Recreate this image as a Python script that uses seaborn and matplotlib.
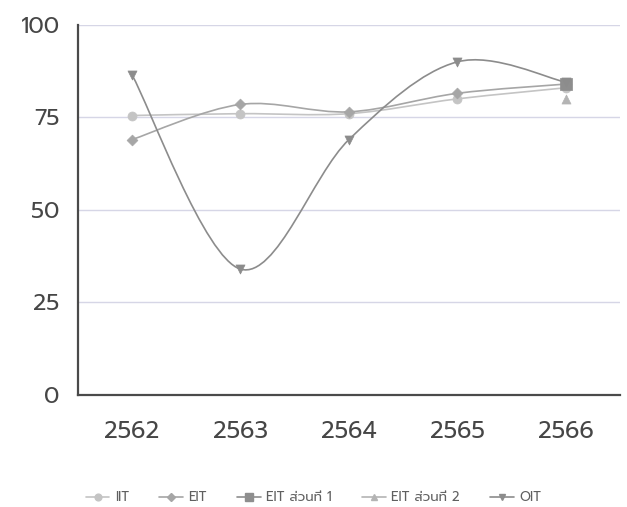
import numpy as np
import pandas as pd
import seaborn as sns
from matplotlib import pyplot as plt
from matplotlib.path import Path
from matplotlib.patches import PathPatch
from matplotlib.lines import Line2D

years = ['2562', '2563', '2564', '2565', '2566']
iit = [75.5, 76, 76, 80, 83]
eit = [69, 78.5, 76.5, 81.5, 84]
eit1 = [np.nan, np.nan, np.nan, np.nan, 84]
eit2 = [np.nan, np.nan, np.nan, np.nan, 80]
oit = [86.5, 34, 69, 90, 84.5]

names = ['IIT', 'EIT', 'EIT ส่วนที่ 1', 'EIT ส่วนที่ 2', 'OIT']
values = [iit, eit, eit1, eit2, oit]
colors = ['#c4c4c4', '#a6a6a6', '#8e8e8e', '#b4b4b4', '#8c8c8c']
markers = ['o', 'D', 's', '^', 'v']
msizes = [6.5, 5.5, 8, 6.5, 6.5]

rows = []
for n, v in zip(names, values):
    for i, y in enumerate(v):
        rows.append({'series': n, 'x': i, 'value': y})
df = pd.DataFrame(rows).dropna()

sns.set_theme(style='white')
plt.rcParams['font.family'] = ['Prompt', 'DejaVu Sans']

fig = plt.figure(figsize=(6.27, 5.07), dpi=100)
ax = fig.add_axes([0.124, 0.221, 0.865, 0.730])


def smooth_path(xs, ys):
    # catmull-rom style cubic segments through the points (like excel smoothed lines)
    pts = np.column_stack([xs, ys]).astype(float)
    verts = [pts[0]]
    codes = [Path.MOVETO]
    n = len(pts)
    for i in range(n - 1):
        p0 = pts[i - 1] if i > 0 else pts[i]
        p1 = pts[i]
        p2 = pts[i + 1]
        p3 = pts[i + 2] if i + 2 < n else pts[i + 1]
        c1 = p1 + (p2 - p0) / 6.0
        c2 = p2 - (p3 - p1) / 6.0
        verts += [c1, c2, p2]
        codes += [Path.CURVE4] * 3
    return Path(verts, codes)


for yv in [25, 50, 75, 100]:
    ax.axhline(yv, color='#d6d6e6', lw=1.0, zorder=1)

handles = []
for n, c, m, ms in zip(names, colors, markers, msizes):
    d = df[df['series'] == n]
    if len(d) > 1:
        ax.add_patch(PathPatch(smooth_path(d['x'], d['value']), facecolor='none',
                               edgecolor=c, lw=1.2, zorder=2))
    sns.scatterplot(data=d, x='x', y='value', marker=m, s=ms ** 2, color=c,
                    edgecolor=c, linewidth=0.5, ax=ax, zorder=3, legend=False)
    handles.append(Line2D([], [], color=c, lw=1.2, marker=m, markersize=ms * 0.75,
                          markeredgecolor=c, label=n))

ax.set_xlim(-0.5, 4.5)
ax.set_ylim(0, 100)
ax.set_xticks(range(len(years)))
ax.set_xticklabels(years)
ax.set_yticks([0, 25, 50, 75, 100])
ax.set_xlabel('')
ax.set_ylabel('')
ax.tick_params(axis='x', labelsize=17, colors='#464646', length=0, pad=18)
ax.tick_params(axis='y', labelsize=16.5, colors='#464646', length=0, pad=13)

sns.despine(ax=ax)
for s in ['left', 'bottom']:
    ax.spines[s].set_color('#4a4a4a')
    ax.spines[s].set_linewidth(1.6)

fig.legend(handles=handles, loc='center', bbox_to_anchor=(0.5, 0.018), ncol=5,
           frameon=False, fontsize=9.5, handlelength=1.8, columnspacing=2.3,
           handletextpad=0.4, labelcolor='#606060')

fig.savefig('out.png', dpi=100)
